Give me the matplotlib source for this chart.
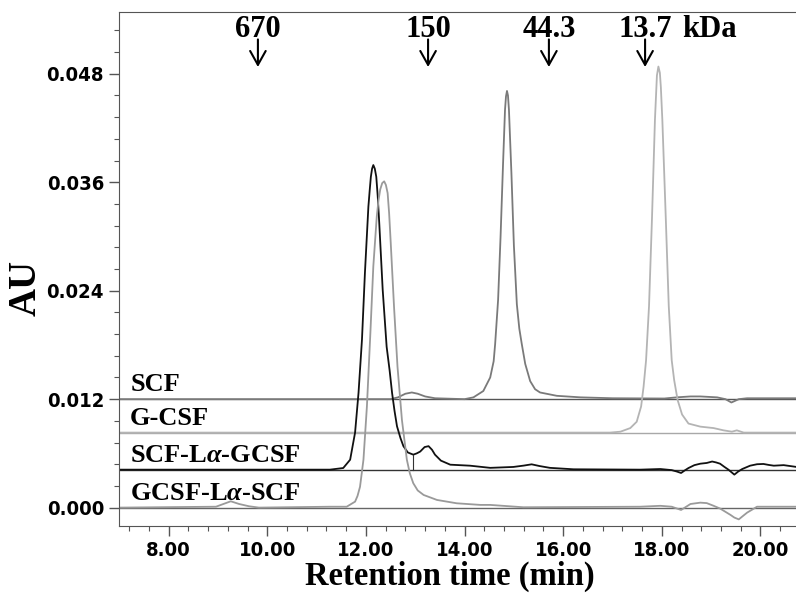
"""SEC chromatograms of SCF, G-CSF and the two fusion proteins, stacked with offsets."""
import matplotlib
matplotlib.use("Agg")
import matplotlib.pyplot as plt
from matplotlib.ticker import MultipleLocator, FormatStrFormatter
from matplotlib import font_manager

plt.rcParams["mathtext.fontset"] = "custom"
plt.rcParams["mathtext.rm"] = "Liberation Serif:bold"
plt.rcParams["mathtext.it"] = "Liberation Serif:italic:bold"

# baseline offset of each trace (AU)
names = ["SCF", "G-CSF", r"SCF-L$\it{\alpha}$-GCSF", r"GCSF-L$\it{\alpha}$-SCF"]
offsets = [0.012, 0.0083, 0.0042, 0.0]
colors = ["#7a7a7a", "#b4b4b4", "#111111", "#9a9a9a"]
line_colors = ["#555555", "#a8a8a8", "#333333", "#666666"]

# traces: retention time (min) / AU above own baseline
scf_t = [7.0, 12.5, 12.65, 12.8, 12.93, 13.05, 13.2, 13.4, 14.0, 14.18, 14.38, 14.52, 14.59,
         14.62, 14.68, 14.73, 14.78, 14.82, 14.84, 14.86, 14.88, 14.90, 14.95, 15.00, 15.06,
         15.11, 15.16, 15.23, 15.33, 15.43, 15.53, 15.87, 16.35, 17.0, 18.05, 18.3, 18.58,
         18.78, 19.12, 19.29, 19.41, 19.56, 19.73, 20.73]
scf_v = [0.0, 0.0, 0.0002, 0.0006, 0.00074, 0.0006, 0.0003, 0.0001, 0.0, 0.0002, 0.0009, 0.0024, 0.0042,
         0.0061, 0.011, 0.018, 0.026, 0.032, 0.0335, 0.0341, 0.0336, 0.032, 0.025, 0.017, 0.0105,
         0.0078, 0.0061, 0.0039, 0.002, 0.0011, 0.00074, 0.00037, 0.0002, 0.0001, 0.00007, 0.0002, 0.0003,
         0.0003, 0.0002, 0.0, -0.00037, 0.0, 0.0001, 0.0001]

gcsf_t = [7.0, 16.95, 17.16, 17.36, 17.49, 17.58, 17.63, 17.68, 17.74, 17.80, 17.86, 17.90,
          17.93, 17.96, 17.98, 18.01, 18.08, 18.14, 18.20, 18.25, 18.32, 18.41, 18.54, 18.78,
          19.05, 19.25, 19.42, 19.52, 19.66, 20.73]
gcsf_v = [0.0, 0.0, 0.0001, 0.0005, 0.0012, 0.0029, 0.0051, 0.008, 0.014, 0.0237, 0.0346, 0.0395,
          0.0405, 0.0398, 0.0382, 0.0346, 0.0237, 0.014, 0.008, 0.0058, 0.0036, 0.002, 0.001, 0.00066,
          0.0005, 0.00025, 0.0001, 0.00025, 0.0, 0.0]

fus1_t = [7.0, 11.27, 11.54, 11.68, 11.78, 11.85, 11.92, 11.98, 12.05, 12.075, 12.10, 12.125,
          12.15, 12.18, 12.21, 12.24, 12.27, 12.34, 12.42, 12.48, 12.53, 12.58, 12.63, 12.70,
          12.76, 12.85, 12.96, 13.03, 13.10, 13.19, 13.27, 13.34, 13.40, 13.52, 13.71,
          14.11, 14.52, 14.99, 15.2, 15.36, 15.52, 15.73, 16.21, 17.56, 17.97, 18.20, 18.30,
          18.39, 18.46, 18.54, 18.66, 18.78, 18.91, 19.02, 19.10, 19.18, 19.27, 19.35, 19.47,
          19.55, 19.63, 19.79, 19.93, 20.06, 20.17, 20.27, 20.47, 20.73]
fus1_v = [0.0, 0.0, 0.00018, 0.0011, 0.0041, 0.0085, 0.0144, 0.0218, 0.0291, 0.0308, 0.0324, 0.0333,
          0.0337, 0.0333, 0.0324, 0.0302, 0.0273, 0.0199, 0.0136, 0.011, 0.0085, 0.0065, 0.0048, 0.0035,
          0.0026, 0.0019, 0.00166, 0.0018, 0.002, 0.0025, 0.0026, 0.0022, 0.00166, 0.001, 0.00055,
          0.00044, 0.0002, 0.0003, 0.00045, 0.00059, 0.0004, 0.0002, 0.00004, 0.0, 0.00007, -0.00005, -0.0002,
          -0.00037, -0.0001, 0.00018, 0.0005, 0.00066, 0.00074, 0.0009, 0.0008, 0.00066, 0.0003, 0.0, -0.00055,
          -0.0002, 0.00007, 0.00044, 0.0006, 0.00063, 0.00052, 0.00044, 0.0005, 0.0003]

fus2_t = [7.0, 8.96, 9.16, 9.26, 9.43, 9.63, 9.83, 11.28, 11.61, 11.78, 11.83, 11.88, 11.95, 12.02,
          12.09, 12.15, 12.22, 12.255, 12.29, 12.33, 12.37, 12.405, 12.44, 12.47, 12.50, 12.57,
          12.64, 12.73, 12.83, 12.89, 12.96, 13.05, 13.17, 13.44, 13.84, 14.32, 14.52, 15.19,
          17.56, 17.97, 18.20, 18.39, 18.58, 18.78, 18.91, 19.05, 19.18, 19.30, 19.39, 19.47, 19.56,
          19.65, 19.73, 19.93, 20.73]
fus2_v = [0.0, 0.0001, 0.0005, 0.0007, 0.0004, 0.00015, 0.0, 0.0001, 0.0001, 0.00066, 0.0013, 0.0023,
          0.0053, 0.0112, 0.0193, 0.0267, 0.0322, 0.034, 0.0352, 0.0359, 0.0361, 0.0357, 0.0348, 0.0326,
          0.0296, 0.0222, 0.0156, 0.0097, 0.0053, 0.0038, 0.0027, 0.0019, 0.0014, 0.00085, 0.00048, 0.0003,
          0.0003, 0.00004, 0.0001, 0.0002, 0.0001, -0.00026, 0.0004, 0.00055, 0.0005, 0.0002, -0.0001,
          -0.0005, -0.0008, -0.0011, -0.0013, -0.0009, -0.00055, 0.0001, 0.0001]

# molecular weight standards
std_labels = ["670", "150", "44.3", "13.7"]
std_times = [9.81, 13.26, 15.71, 17.66]

traces = [(scf_t, scf_v), (gcsf_t, gcsf_v), (fus1_t, fus1_v), (fus2_t, fus2_v)]

# tick labels in the reference are a narrow bold sans; use a condensed face if there is one
tick_font = font_manager.FontProperties(family="Liberation Sans", weight="bold", size=16)
cond = font_manager.FontProperties(family="DejaVu Sans", weight="bold", stretch="condensed")
path = font_manager.findfont(cond)
if "Condensed" in path:
    tick_font = font_manager.FontProperties(fname=path, size=14.5)

fig = plt.figure(figsize=(7.96, 6.03), dpi=100)
ax = fig.add_axes([0.1499, 0.1282, 0.8501, 0.8514])

for (t, v), off, c, lc in zip(traces, offsets, colors, line_colors):
    ax.axhline(off, color=lc, lw=1.0, zorder=1)
    ax.plot(t, [off + x for x in v], color=c, lw=1.3, zorder=2, solid_joinstyle="round")
ax.plot([12.96, 12.96], [offsets[2], offsets[2] + 0.00166], color="#333333", lw=0.8)

for name, off in zip(names, offsets):
    ax.text(7.22, off + 0.0003, name, fontsize=19, fontweight="bold", family="Liberation Serif",
            ha="left", va="bottom")

for lab, t in zip(std_labels, std_times):
    ax.annotate("", xy=(t, 0.04875), xytext=(t, 0.0518),
                arrowprops=dict(arrowstyle="->, head_length=0.5, head_width=0.28", lw=1.5,
                                color="black", mutation_scale=20, shrinkA=0, shrinkB=0))
    ax.text(t, 0.0521, lab, fontsize=22, fontweight="bold", family="Liberation Serif",
            ha="center", va="baseline")
ax.text(18.42, 0.0521, "kDa", fontsize=22, fontweight="bold", family="Liberation Serif",
        ha="left", va="baseline")

ax.set_xlim(7.0, 20.72)
ax.set_ylim(-0.002, 0.0548)
ax.xaxis.set_major_locator(MultipleLocator(2))
ax.xaxis.set_minor_locator(MultipleLocator(0.4))
ax.yaxis.set_major_locator(MultipleLocator(0.012))
ax.yaxis.set_minor_locator(MultipleLocator(0.0024))
ax.xaxis.set_major_formatter(FormatStrFormatter("%.2f"))
ax.yaxis.set_major_formatter(FormatStrFormatter("%.3f"))
ax.tick_params(which="major", direction="out", length=7, width=1, color="#555555", pad=4)
ax.tick_params(which="minor", direction="out", length=3.5, width=0.8, color="#555555")
for lab in ax.get_xticklabels() + ax.get_yticklabels():
    lab.set_fontproperties(tick_font)
ax.spines["right"].set_visible(False)
for s in ["left", "bottom", "top"]:
    ax.spines[s].set_color("#555555")

ax.set_xlabel("Retention time (min)", fontsize=23.5, fontweight="bold", family="Liberation Serif",
              va="top")
ax.xaxis.set_label_coords(0.489, -0.069)
ax.set_ylabel("AU", fontsize=28, fontweight="bold", family="Liberation Serif", va="center")
ax.yaxis.set_label_coords(-0.138, 0.463)

fig.savefig("out.png", dpi=100)
